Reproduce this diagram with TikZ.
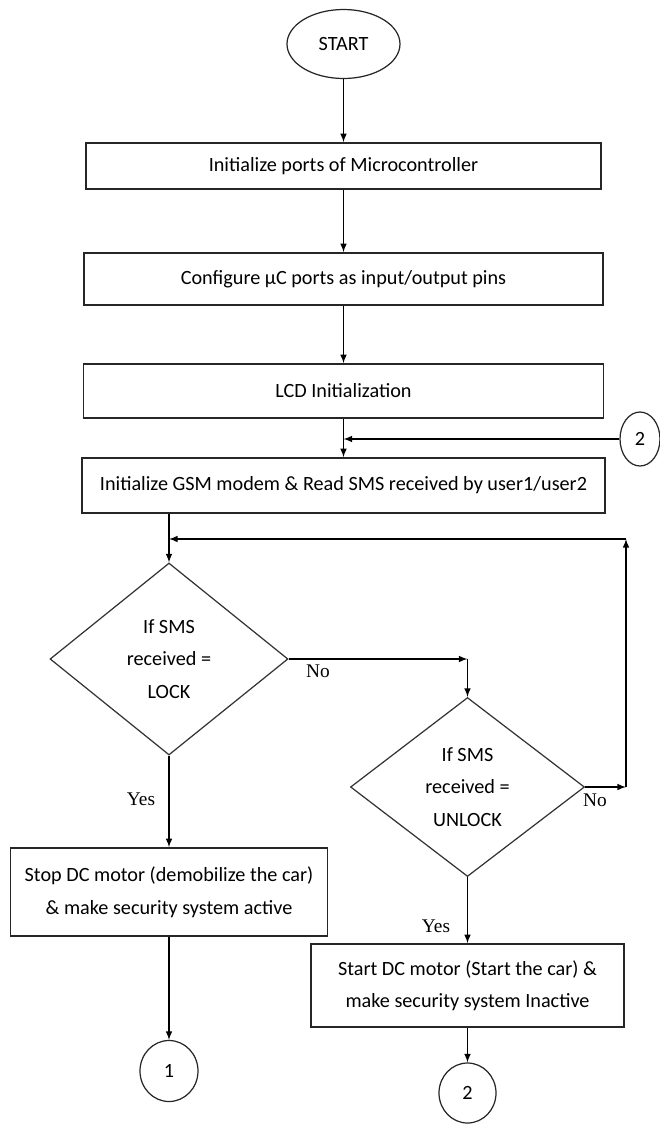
\documentclass[tikz,border=0pt]{standalone}
\usepackage{fontspec}
\setmainfont{Carlito}
\newfontfamily\yesnofont{Liberation Serif}
\usetikzlibrary{shapes.geometric,positioning}

\begin{document}
\begin{tikzpicture}[font=\fontsize{11.5}{18.5}\selectfont]
\tikzstyle{process}=[draw=black!85,line width=0.9pt,inner sep=2pt,align=center]
\tikzstyle{decision}=[diamond,draw=black!80,line width=0.7pt,inner sep=0pt,align=center]
\tikzstyle{connector}=[ellipse,draw=black!85,line width=0.7pt,inner sep=0pt]
\tikzstyle{flow}=[->,>=latex,line width=0.7pt]
\tikzstyle{answer}=[font=\yesnofont\fontsize{11}{13}\selectfont]

\useasboundingbox (0,0) rectangle (13.18,-22.48);

\node[connector,minimum width=2.26cm,minimum height=1.38cm] (start) at (6.87,-0.88) {START};

\node[process,minimum width=10.3cm,minimum height=0.92cm] (init) at (6.87,-3.32) {Initialize ports of Microcontroller};
\node[process,minimum width=10.38cm,minimum height=1.04cm] (config) at (6.87,-5.58) {Configure µC ports as input/output pins};
\node[process,minimum width=10.4cm,minimum height=1.08cm] (lcd) at (6.87,-7.82) {LCD Initialization};
\node[process,minimum width=10.46cm,minimum height=1.1cm] (gsm) at (6.87,-9.71) {Initialize GSM modem \& Read SMS received by user1/user2};

\node[connector,minimum width=0.8cm,minimum height=1.08cm] (back2) at (12.8,-8.78) {2};

\node[decision,minimum width=4.76cm,minimum height=3.84cm] (lock) at (3.38,-13.18) {If SMS\\received =\\LOCK};
\node[decision,minimum width=4.68cm,minimum height=3.58cm] (unlock) at (9.35,-15.74) {If SMS\\received =\\UNLOCK};

\node[process,minimum width=6.34cm,minimum height=1.76cm] (stopcar) at (3.38,-17.84) {Stop DC motor (demobilize the car)\\\& make security system active};
\node[process,minimum width=6.26cm,minimum height=1.66cm] (startcar) at (9.35,-19.71) {Start DC motor (Start the car) \&\\make security system Inactive};

\node[connector,minimum width=1.16cm,minimum height=1.22cm] (out1) at (3.38,-21.42) {1};
\node[connector,minimum width=1.14cm,minimum height=1.2cm] (out2) at (9.35,-21.86) {2};

\node[answer] (nolock) at (6.36,-13.42) {No};
\node[answer] (nounlock) at (11.9,-16.0) {No};
\node[answer] (yeslock) at (2.82,-15.98) {Yes};
\node[answer] (yesunlock) at (8.72,-18.52) {Yes};

\coordinate (nocorner) at (unlock.north |- lock.east);
\coordinate (rightcorner) at (12.52,-15.74);
\coordinate (topcorner) at (12.52,-10.78);
\coordinate (loopin) at (lock.north |- topcorner);

\draw[flow] (start) -- (init);
\draw[flow] (init) -- (config);
\draw[flow] (config) -- (lcd);
\draw[flow] (lcd) -- (gsm);
\draw[flow] (back2) -- (lcd.south |- back2);
\draw[flow] (gsm.south -| lock.north) -- (lock.north);

\draw[flow] (lock.east) -- (nocorner);
\draw[flow] (nocorner) -- (unlock.north);
\draw[flow] (unlock.east) -- (rightcorner);
\draw[flow] (rightcorner) -- (topcorner);
\draw[flow] (topcorner) -- (loopin);

\draw[flow] (lock.south) -- (stopcar.north);
\draw[flow] (unlock.south) -- (startcar.north);
\draw[flow] (stopcar.south) -- (out1.north);
\draw[flow] (startcar.south) -- (out2.north);

\end{tikzpicture}
\end{document}
